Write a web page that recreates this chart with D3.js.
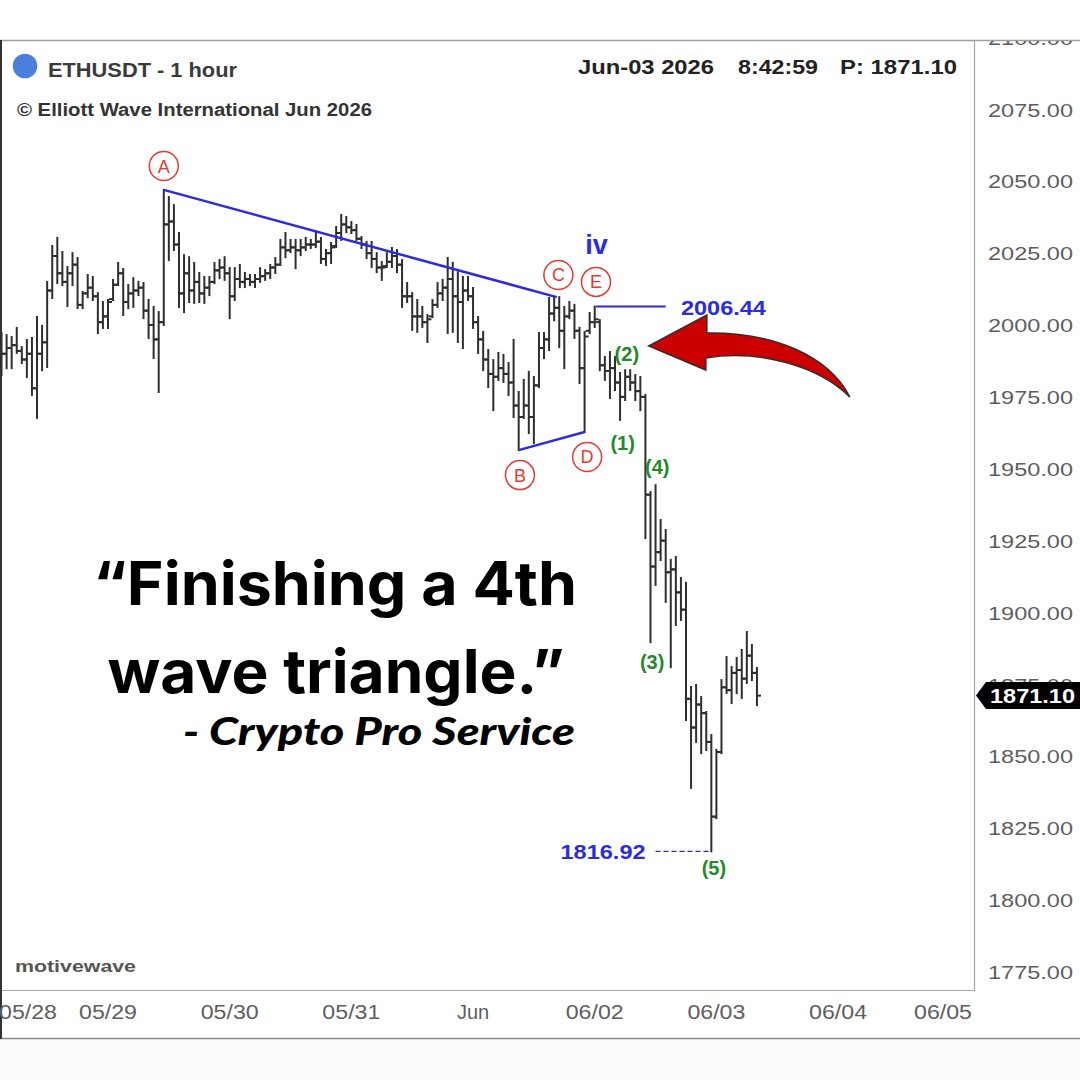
<!DOCTYPE html>
<html><head><meta charset="utf-8">
<script src="https://cdn.jsdelivr.net/npm/d3@7"></script>
<style>html,body{margin:0;padding:0;background:#fff;}svg{display:block;}</style>
</head><body>
<svg id="chart" width="1080" height="1080"></svg>
<script>
// ---- DATA ----
const firstBarTime = new Date(2026, 4, 28, 3, 0); // hourly bars, ETHUSDT 1 hour
const opens = [
1994,1990,1992,1993,1991,1988,1990,1978,1990,1994,
2012,2024,2018,2015,2018,2021,2007,2011,2013,2010,
2001,2003,2009,2014,2018,2008,2011,2012,2013,2005,
2000,1995,2001,2035,2036,2028,2011,2018,2012,2015,
2011,2013,2015,2019,2020,2018,2010,2016,2015,2016,
2015,2016,2017,2018,2020,2021,2027,2026,2027,2026,
2027,2028,2028,2029,2023,2025,2027.5,2032,2035,2034,
2033,2030,2028,2025,2023,2020,2020.5,2022,2024,2021,
2010,2010,2003,2003,2001,2003,2007,2011,2013,2016,
2010,2008,2012,2010,2001,1995,1988,1983,1982,1985,
1983,1980,1972,1968,1972,1968,1979,1992,1995,2004,
2006,1998,2003,2005,1998,1985,1998,2001,2001,1986,
1984,1985,1980,1975,1982,1980,1977,1975,1941,1916,
1921,1925,1914,1915,1907,1901,1870,1860,1868,1865,
1855,1829,1851.5,1874,1873,1879,1880,1877,1885,1879];
const highs = [
1997.2,1996.5,1995.8,1999.0,1992.3,1994.8,1995.5,2002.8,1999.7,2015.0,
2027.5,2030.3,2025.4,2020.2,2025.0,2023.3,2011.5,2017.4,2016.7,2011.1,
2008.0,2008.7,2015.7,2021.6,2019.5,2013.9,2016.3,2015.0,2014.6,2008.7,
2006.3,2004.5,2047.0,2044.5,2041.7,2032.0,2024.3,2023.6,2021.6,2018.1,
2016.7,2016.7,2021.6,2022.6,2023.6,2019.8,2019.8,2020.9,2018.1,2017.4,
2017.4,2019.8,2019.1,2020.9,2023.3,2029.6,2032.0,2029.6,2029.6,2029.6,
2030.3,2029.6,2032.3,2030.3,2026.1,2028.5,2034.1,2038.3,2037.6,2035.8,
2034.8,2030.6,2028.9,2028.9,2025.0,2021.9,2025.0,2026.8,2026.1,2022.6,
2014.6,2011.1,2008.7,2006.3,2003.5,2008.7,2014.6,2015.7,2023.3,2021.6,
2018.4,2016.7,2016.7,2012.9,2002.8,1997.6,1991.3,1987.8,1990.3,1989.6,
1986.8,1994.8,1976.7,1980.9,1983.7,1981.9,1997.2,1997.2,2009.4,2009.7,
2009.7,2006.3,2008.0,2007.0,1999.0,1997.6,2004.2,2006.44,2001.7,1988.9,
1990.6,1988.9,1983.3,1984.3,1984.3,1982.6,1981.9,1975.7,1941.9,1944.3,
1932.2,1928.7,1918.3,1919.3,1912.0,1910.3,1874.1,1874.8,1870.6,1865.4,
1857.4,1852.2,1876.5,1884.5,1881.0,1884.2,1887.0,1893.2,1888.7,1880.7];
const lows = [
1982.6,1985.0,1985.0,1990.3,1986.8,1981.9,1975.7,1967.7,1984.3,1985.4,
2009.4,2014.6,2013.9,2006.6,2013.9,2005.9,2005.9,2009.7,2008.7,1997.2,
1999.0,1999.0,2008.7,2013.9,2003.5,2005.9,2006.3,2010.4,2002.4,1995.5,
1988.5,1976.7,2000.0,2022.6,2026.1,2006.3,2004.5,2008.0,2007.7,2008.0,
2007.7,2010.4,2014.6,2016.3,2015.7,2002.4,2008.7,2013.2,2013.2,2013.9,
2013.2,2015.0,2015.7,2016.3,2018.1,2020.9,2023.6,2025.4,2019.8,2024.3,
2026.1,2026.8,2027.1,2021.6,2020.9,2021.6,2027.1,2029.6,2032.3,2032.0,
2029.6,2026.8,2023.3,2020.2,2018.4,2015.7,2020.2,2020.2,2018.4,2006.3,
2008.0,1998.3,1997.6,1999.3,1994.1,2002.8,2006.3,2008.7,1997.2,1997.6,
1994.1,1992.0,2008.7,1999.0,1990.3,1984.3,1978.4,1970.4,1980.9,1980.2,
1975.7,1968.0,1956.5,1967.7,1962.4,1959.0,1978.4,1988.5,1991.3,2001.7,
1992.3,1985.0,2002.4,1995.5,1979.8,1962.8,1997.2,1999.3,1984.3,1980.9,
1974.6,1977.4,1967.0,1973.9,1977.4,1973.9,1970.4,1925.9,1889.7,1909.6,
1918.3,1903.7,1881.0,1895.7,1897.4,1862.6,1839.0,1855.0,1851.1,1852.2,
1816.92,1828.5,1851.1,1872.0,1868.5,1872.0,1870.3,1875.5,1876.5,1867.8];
const closes = [
1990,1992,1993,1991,1988,1990,1978,1990,1994,2012,
2024,2018,2015,2018,2021,2007,2011,2013,2010,2001,
2003,2008,2014,2018,2008,2011,2012,2013,2005,2000,
1995,2001,2035,2036,2028,2011,2018,2012,2015,2011,
2013,2015,2019,2020,2018,2010,2016,2015,2016,2015,
2016,2017,2018,2020,2021,2027,2026,2027,2026,2027,
2028,2028,2029,2023,2025,2027,2032,2035,2034,2033,
2030,2028,2025,2023,2020,2020,2022,2024,2021,2010,
2010,2003,2003,2001,2002,2007,2011,2013,2016,2010,
2008,2012,2010,2001,1995,1988,1983,1982,1985,1983,
1980,1972,1968,1972,1968,1979,1992,1995,2004,2006,
1998,2003,2005,1998,1985,1996,2001,2002,1986,1984,
1985,1980,1975,1982,1980,1977,1975,1941,1916,1921,
1925,1914,1915,1907,1901,1870,1860,1868,1865,1855,
1829,1851.5,1874,1873,1879,1880,1877,1885,1879,1871.10];

const yTickValues = [1775,1800,1825,1850,1875,1900,1925,1950,1975,2000,2025,2050,2075,2100];
const xTickDates = ["2026-05-28","2026-05-29","2026-05-30","2026-05-31","2026-06-01","2026-06-02","2026-06-03","2026-06-04","2026-06-05"];
const xTickLabels = ["05/28","05/29","05/30","05/31","Jun","06/02","06/03","06/04","06/05"];

// triangle wave letters (circled): label, time, price of centre
const letterNames = ["A","B","C","D","E"];
const letterTimes = ["2026-05-29T11:00","2026-06-01T09:15","2026-06-01T16:50","2026-06-01T22:30","2026-06-02T00:15"];
const letterPrices = [2055.3,1947.8,2017.4,1954.1,2015.0];
// impulse wave labels
const waveNames = ["(1)","(2)","(3)","(4)","(5)"];
const waveTimes = ["2026-06-02T05:30","2026-06-02T06:20","2026-06-02T11:20","2026-06-02T12:20","2026-06-02T23:30"];
const wavePrices = [1959.0,1989.9,1882.8,1950.6,1811.1];
// triangle boundary lines
const lineAC = {t:["2026-05-29T11:00","2026-06-01T16:30"], p:[2047.0,2009.7]};
const lineBD = {t:["2026-06-01T09:00","2026-06-01T22:00"], p:[1956.5,1962.8]};
const levelE = {t:["2026-06-02T00:15","2026-06-02T14:00"], p:2006.44, labelTime:"2026-06-02T17:00"};
const levelLow = {t:["2026-06-02T12:00","2026-06-02T23:00"], p:1816.92};
const lastPrice = 1871.10;

// ---- SCALES ----
const svg = d3.select("#chart");
const W = 1080, plotRight = 974, plotTop = 40, plotBottom = 990;
const x = d3.scaleTime().domain([new Date(2026,4,29), new Date(2026,5,3)]).range([108, 716.4]);
const y = d3.scaleLinear().domain([1775, 2075]).range([971.9, 109.4]);
const T = s => { const [d, h] = s.split("T"); const [Y,M,D] = d.split("-").map(Number);
  let hh=0, mm=0; if (h) [hh,mm] = h.split(":").map(Number); return new Date(Y, M-1, D, hh, mm); };

const bars = opens.map((o,i) => ({t: d3.timeHour.offset(firstBarTime, i), o, h: highs[i], l: lows[i], c: closes[i]}));

svg.append("rect").attr("width", W).attr("height", 1080).attr("fill", "#fff");
svg.append("rect").attr("x",0).attr("y",1039).attr("width",W).attr("height",41).attr("fill","#fcfcfc");

const defs = svg.append("defs");
defs.append("clipPath").attr("id","plotClip").append("rect").attr("x",0).attr("y",plotTop+1).attr("width",plotRight).attr("height",plotBottom-plotTop-1);
defs.append("clipPath").attr("id","axisClip").append("rect").attr("x",plotRight).attr("y",plotTop+1).attr("width",W-plotRight).attr("height",plotBottom-plotTop+5);

// ---- FRAME ----
svg.append("line").attr("x1",0).attr("x2",W).attr("y1",40.5).attr("y2",40.5).attr("stroke","#a0a0a0").attr("stroke-width",1.5);
svg.append("line").attr("x1",0).attr("x2",plotRight).attr("y1",990.5).attr("y2",990.5).attr("stroke","#a8a8a8").attr("stroke-width",1.2);
svg.append("line").attr("x1",plotRight+0.5).attr("x2",plotRight+0.5).attr("y1",40).attr("y2",991).attr("stroke","#a8a8a8").attr("stroke-width",1.2);
svg.append("line").attr("x1",0).attr("x2",W).attr("y1",1038.5).attr("y2",1038.5).attr("stroke","#8a8a8a").attr("stroke-width",1.5);
svg.append("line").attr("x1",1).attr("x2",1).attr("y1",40).attr("y2",1039).attr("stroke","#333").attr("stroke-width",2);

// ---- AXES ----
const yAxisG = svg.append("g").attr("clip-path","url(#axisClip)")
  .append("g").attr("transform",`translate(${plotRight},0)`)
  .call(d3.axisRight(y).tickValues(yTickValues).tickSize(0).tickPadding(14).tickFormat(d3.format(".2f")));
yAxisG.select(".domain").remove();
yAxisG.selectAll("text").attr("font-family","'Liberation Sans', Arial, sans-serif").attr("font-size",19)
  .attr("fill","#5e5e5e").attr("textLength",85).attr("lengthAdjust","spacingAndGlyphs").attr("dy","0.35em");

const xAxisG = svg.append("g").attr("transform",`translate(0,${plotBottom})`)
  .call(d3.axisBottom(x).tickValues(xTickDates.map(T)).tickSize(0).tickFormat((d,i)=>xTickLabels[i]));
xAxisG.select(".domain").remove();
xAxisG.selectAll(".tick").attr("transform", d => `translate(${Math.max(28, Math.min(943, x(d)))},0)`);
xAxisG.selectAll("text").attr("y",29).attr("dy",null)
  .attr("font-family","'Liberation Sans', Arial, sans-serif").attr("font-size",20).attr("fill","#5e5e5e")
  .each(function(d,i){ if (xTickLabels[i].length > 3) d3.select(this).attr("textLength",58).attr("lengthAdjust","spacingAndGlyphs"); });

// ---- BARS (OHLC) ----
const plot = svg.append("g").attr("clip-path","url(#plotClip)");
const barG = plot.append("g").attr("stroke","#2e2e2e").attr("stroke-width",2);
const bg = barG.selectAll("g").data(bars).join("g");
bg.append("line").attr("x1",d=>x(d.t)).attr("x2",d=>x(d.t)).attr("y1",d=>y(d.h)-1).attr("y2",d=>y(d.l)+1);
bg.append("line").attr("x1",d=>x(d.t)-4).attr("x2",d=>x(d.t)).attr("y1",d=>y(d.o)).attr("y2",d=>y(d.o));
bg.append("line").attr("x1",d=>x(d.t)).attr("x2",d=>x(d.t)+4).attr("y1",d=>y(d.c)).attr("y2",d=>y(d.c));

// ---- TRIANGLE LINES ----
const blue = "#2b2be0";
const seg = (t1,p1,t2,p2) => plot.append("line").attr("x1",x(T(t1))).attr("y1",y(p1)).attr("x2",x(T(t2))).attr("y2",y(p2));
seg(lineAC.t[0],lineAC.p[0],lineAC.t[1],lineAC.p[1]).attr("stroke",blue).attr("stroke-width",2.5);
seg(lineBD.t[0],lineBD.p[0],lineBD.t[1],lineBD.p[1]).attr("stroke",blue).attr("stroke-width",2.5);
seg(levelE.t[0],levelE.p,levelE.t[1],levelE.p).attr("stroke",blue).attr("stroke-width",2);
seg(levelLow.t[0],levelLow.p,levelLow.t[1],levelLow.p).attr("stroke",blue).attr("stroke-width",1.3).attr("stroke-dasharray","5,3");

plot.append("text").attr("x",x(T(levelE.labelTime))).attr("y",y(levelE.p)+8)
  .attr("font-family","'Liberation Sans', Arial, sans-serif").attr("font-weight","bold").attr("font-size",21)
  .attr("fill",blue).attr("textLength",85).attr("lengthAdjust","spacingAndGlyphs").text(levelE.p.toFixed(2));
plot.append("text").attr("x",x(T(levelLow.t[0]))-10).attr("y",y(levelLow.p)+8).attr("text-anchor","end")
  .attr("font-family","'Liberation Sans', Arial, sans-serif").attr("font-weight","bold").attr("font-size",21)
  .attr("fill",blue).attr("textLength",85).attr("lengthAdjust","spacingAndGlyphs").text(levelLow.p.toFixed(2));

// "iv"
plot.append("text").attr("x",x(T("2026-06-02T00:20"))).attr("y",y(2024.7)).attr("text-anchor","middle")
  .attr("font-family","'Liberation Sans', Arial, sans-serif").attr("font-weight","bold").attr("font-size",27)
  .attr("fill",blue).text("iv");

// circled letters
const red = "#e23b33";
const lg = plot.selectAll("g.letter").data(letterNames).join("g").attr("class","letter")
  .attr("transform",(d,i)=>`translate(${x(T(letterTimes[i]))},${y(letterPrices[i])})`);
lg.append("circle").attr("r",14.5).attr("fill","#fff").attr("stroke",red).attr("stroke-width",1.5);
lg.append("text").attr("text-anchor","middle").attr("dy","0.36em")
  .attr("font-family","'Liberation Sans', Arial, sans-serif").attr("font-size",18).attr("fill",red).text(d=>d);

// impulse wave labels
plot.selectAll("text.wave").data(waveNames).join("text").attr("class","wave")
  .attr("x",(d,i)=>x(T(waveTimes[i]))).attr("y",(d,i)=>y(wavePrices[i])).attr("dy","0.36em").attr("text-anchor","middle")
  .attr("font-family","'Liberation Sans', Arial, sans-serif").attr("font-weight","bold").attr("font-size",20)
  .attr("fill","#23892a").text(d=>d);

// red curved arrow, tip anchored at a chart position
const tipX = x(T("2026-06-02T10:40")), tipY = y(1992.7);
const arrowPath = "M0,0 L58,-31 L58,-13 C125,-14 180,10 201,51 C170,20 110,3 57,12 L57,24 Z";
plot.append("path").attr("transform",`translate(${tipX},${tipY})`).attr("d",arrowPath)
  .attr("fill","#cc0000").attr("stroke","#3a2a2a").attr("stroke-width",1.6).attr("stroke-linejoin","miter");

// ---- HEADER TEXTS ----
const hf = "'Liberation Sans', Arial, sans-serif";
svg.append("circle").attr("cx",25).attr("cy",66).attr("r",12.3).attr("fill","#4a80dc");
svg.append("text").attr("x",48).attr("y",77).attr("font-family",hf).attr("font-weight","bold").attr("font-size",21)
  .attr("fill","#3a3a3a").attr("textLength",189).attr("lengthAdjust","spacingAndGlyphs").text("ETHUSDT - 1 hour");
svg.append("text").attr("x",17).attr("y",116).attr("font-family",hf).attr("font-weight","bold").attr("font-size",18)
  .attr("fill","#333").attr("textLength",355).attr("lengthAdjust","spacingAndGlyphs").text("© Elliott Wave International Jun 2026");
const headRight = [["Jun-03 2026",578,136],["8:42:59",738,80],["P: 1871.10",840,117]];
headRight.forEach(([t,xx,w]) => svg.append("text").attr("x",xx).attr("y",74).attr("font-family",hf).attr("font-weight","bold")
  .attr("font-size",21).attr("fill","#222").attr("textLength",w).attr("lengthAdjust","spacingAndGlyphs").text(t));
svg.append("text").attr("x",15).attr("y",972).attr("font-family",hf).attr("font-weight","bold").attr("font-size",17)
  .attr("fill","#555").attr("textLength",121).attr("lengthAdjust","spacingAndGlyphs").text("motivewave");

// ---- LAST PRICE TAG ----
const py = y(lastPrice);
svg.append("path").attr("d",`M${plotRight+2},${py} L${plotRight+12},${py-13.5} L${W},${py-13.5} L${W},${py+13.5} L${plotRight+12},${py+13.5} Z`).attr("fill","#000");
svg.append("text").attr("x",990).attr("y",py).attr("dy","0.36em").attr("font-family",hf).attr("font-weight","bold")
  .attr("font-size",20).attr("fill","#fff").attr("textLength",85).attr("lengthAdjust","spacingAndGlyphs").text(lastPrice.toFixed(2));

// ---- QUOTE ----
const qf = "Inter, 'Open Sans', 'Liberation Sans', sans-serif";
svg.append("text").attr("x",335).attr("y",605).attr("text-anchor","middle").attr("font-family",qf).attr("font-weight",700)
  .attr("font-size",60).attr("fill","#000").attr("textLength",484).attr("lengthAdjust","spacingAndGlyphs").text("“Finishing a 4th");
svg.append("text").attr("x",336).attr("y",693).attr("text-anchor","middle").attr("font-family",qf).attr("font-weight",700)
  .attr("font-size",60).attr("fill","#000").attr("textLength",457).attr("lengthAdjust","spacingAndGlyphs").text("wave triangle.”");
svg.append("text").attr("x",575).attr("y",745).attr("text-anchor","end").attr("font-family","Lato, 'Open Sans', sans-serif")
  .attr("font-weight",900).attr("font-style","italic").attr("font-size",37).attr("fill","#000")
  .attr("textLength",392).attr("lengthAdjust","spacingAndGlyphs").text("- Crypto Pro Service");
</script>
</body></html>
